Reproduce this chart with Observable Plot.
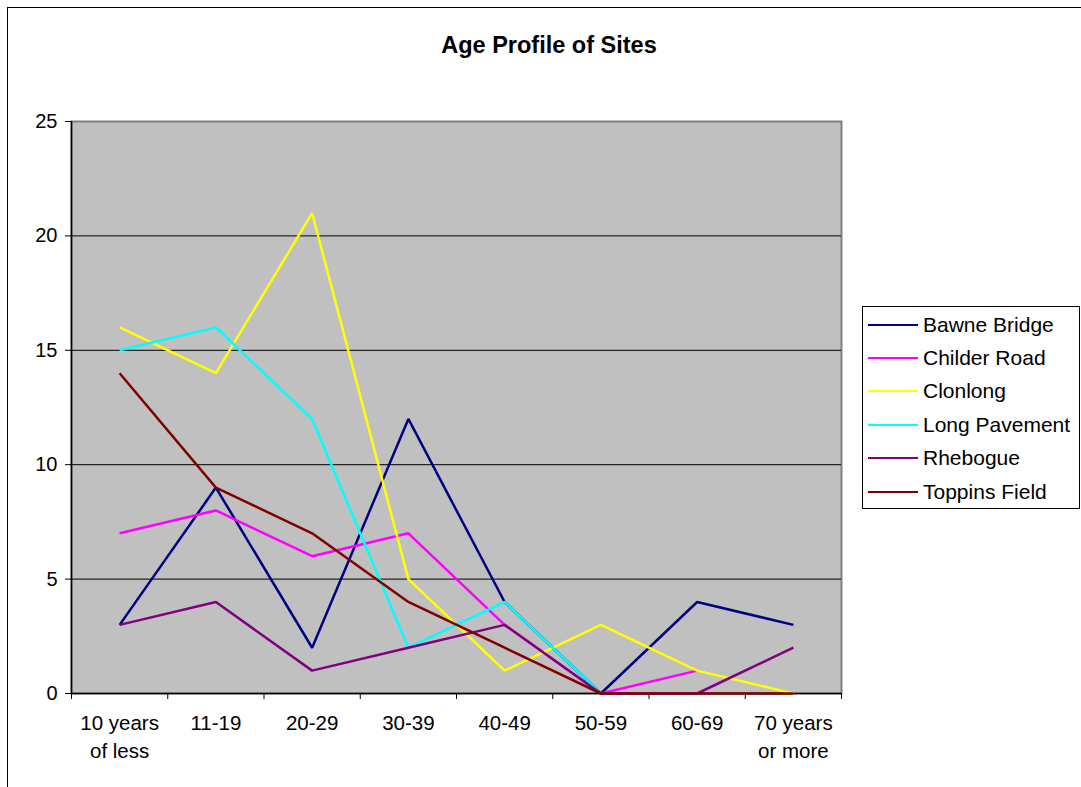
<!DOCTYPE html>
<html>
<head>
<meta charset="utf-8">
<script src="https://cdn.jsdelivr.net/npm/d3@7"></script>
<script src="https://cdn.jsdelivr.net/npm/@observablehq/plot@0.6"></script>
<style>
  html, body { margin: 0; padding: 0; background: #fff; }
  #wrap { position: relative; width: 1081px; height: 787px; overflow: hidden; font-family: "Liberation Sans", Arial, sans-serif; }
  #outer { position: absolute; left: 7px; top: 7px; width: 1090px; height: 800px; border-left: 1.5px solid #000; border-top: 1.5px solid #000; box-sizing: border-box; }
  #title { position: absolute; left: 0; width: 1098px; top: 31px; line-height: 28px; text-align: center; font-weight: bold; font-size: 23.5px; color: #000; }
  #chart { position: absolute; left: 0; top: 0; }
  #legend { position: absolute; left: 862px; top: 306px; width: 218px; height: 203px; border: 1px solid #000; box-sizing: border-box; background: #fff; }
  .item { position: absolute; left: 5px; height: 22px; display: flex; align-items: center; font-size: 21px; color: #000; white-space: nowrap; }
  .sw { width: 50px; height: 2.5px; margin-right: 5px; }
</style>
</head>
<body>
<div id="wrap">
  <div id="outer"></div>
  <div id="chart"></div>
  <div id="title">Age Profile of Sites</div>
  <div id="legend"></div>
</div>
<script>
const categories = ["10 years\nof less", "11-19", "20-29", "30-39", "40-49", "50-59", "60-69", "70 years\nor more"];
const seriesNames = ["Bawne Bridge", "Childer Road", "Clonlong", "Long Pavement", "Rhebogue", "Toppins Field"];
const seriesColors = ["#000080", "#ff00ff", "#ffff00", "#00ffff", "#800080", "#800000"];
const bawneBridge   = [3, 9, 2, 12, 4, 0, 4, 3];
const childerRoad   = [7, 8, 6, 7, 3, 0, 1, null];
const clonlong      = [16, 14, 21, 5, 1, 3, 1, 0];
const longPavement  = [15, 16, 12, 2, 4, 0, null, null];
const rhebogue      = [3, 4, 1, 2, 3, 0, 0, 2];
const toppinsField  = [14, 9, 7, 4, 2, 0, 0, 0];
const yTicks = [0, 5, 10, 15, 20, 25];

const seriesValues = [bawneBridge, childerRoad, clonlong, longPavement, rhebogue, toppinsField];
const data = [];
seriesValues.forEach((vals, s) => {
  vals.forEach((v, i) => {
    if (v !== null) data.push({series: seriesNames[s], pos: i + 0.5, value: v});
  });
});
const catData = categories.map((c, i) => ({label: c, pos: i + 0.5}));

const chart = Plot.plot({
  width: 1081,
  height: 787,
  marginLeft: 71,
  marginRight: 240,
  marginTop: 121,
  marginBottom: 94,
  style: {fontFamily: "'Liberation Sans', Arial, sans-serif", fontSize: "20px", color: "#000", background: "transparent", overflow: "visible"},
  x: {type: "linear", domain: [0, categories.length]},
  y: {domain: [0, 25]},
  color: {domain: seriesNames, range: seriesColors},
  marks: [
    Plot.frame({fill: "#c0c0c0", stroke: "#808080", strokeWidth: 2}),
    Plot.ruleY(yTicks.filter(d => d > 0 && d < 25), {stroke: "#000", strokeWidth: 1}),
    Plot.ruleX([0], {stroke: "#000", strokeWidth: 1.5}),
    Plot.ruleY([0], {stroke: "#000", strokeWidth: 1.5}),
    Plot.axisY({ticks: yTicks, tickSize: 6, tickPadding: 8, label: null, fontSize: 20, stroke: "#000"}),
    Plot.axisX({ticks: d3.range(0, categories.length + 1), tickSize: 6, tickFormat: () => "", label: null, stroke: "#000"}),
    Plot.text(catData, {x: "pos", y: () => 0, text: "label", lineAnchor: "top", dy: 17, lineHeight: 1.35, fontSize: 20.5, fill: "#000"}),
    Plot.line(data, {x: "pos", y: "value", z: "series", stroke: "series", strokeWidth: 2.5, strokeLinejoin: "miter", strokeLinecap: "butt"})
  ]
});
document.getElementById("chart").appendChild(chart);

const legend = document.getElementById("legend");
const legendTops = [7, 40, 73, 107, 140, 174];
seriesNames.forEach((name, i) => {
  const item = document.createElement("div");
  item.className = "item";
  item.style.top = legendTops[i] + "px";
  const sw = document.createElement("div");
  sw.className = "sw";
  sw.style.background = seriesColors[i];
  const t = document.createElement("span");
  t.textContent = name;
  item.appendChild(sw);
  item.appendChild(t);
  legend.appendChild(item);
});
</script>
</body>
</html>
